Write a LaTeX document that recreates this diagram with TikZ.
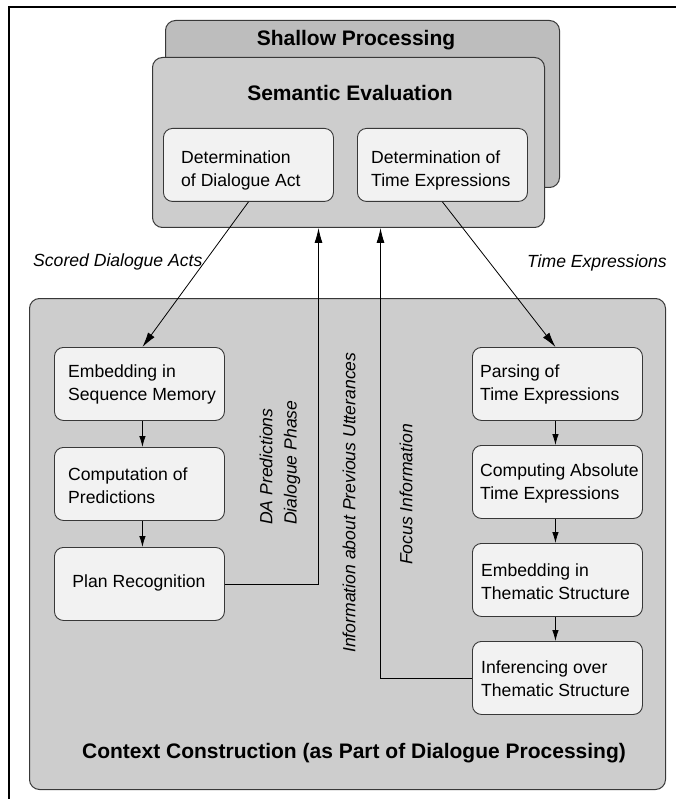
\documentclass[tikz,border=0pt]{standalone}
\usepackage{fontspec}
\setmainfont{Liberation Sans}
\usetikzlibrary{arrows.meta,calc}
\definecolor{shallowfill}{HTML}{BDBDBD}
\definecolor{outerfill}{HTML}{CDCDCD}
\definecolor{boxfill}{HTML}{F2F2F2}
\definecolor{bordergray}{HTML}{383838}
\begin{document}
\begin{tikzpicture}[x=1pt,y=-1pt,
  bigbox/.style={draw=bordergray, line width=1pt, rounded corners=10pt, inner sep=0pt, anchor=north west},
  procbox/.style={draw=bordergray, fill=boxfill, line width=0.9pt, rounded corners=9pt, minimum width=170pt, minimum height=73pt, inner sep=0pt, anchor=north west},
  boxtext/.style={font=\fontsize{17.6}{23}\selectfont, align=left, anchor=west, inner sep=0pt},
  heading/.style={font=\fontsize{21}{25}\selectfont\bfseries, inner sep=0pt},
  flowlabel/.style={font=\fontsize{17.6}{23}\selectfont\itshape, inner sep=0pt},
  bigarrow/.style={-{Latex[length=15pt,width=8pt]}, line width=0.8pt},
  smallarrow/.style={-{Latex[length=11pt,width=6.5pt]}, line width=0.8pt}]
\useasboundingbox (0,0) rectangle (676,799);
% frame
\coordinate (ftl) at (9,7);
\coordinate (ftr) at (676,7);
\coordinate (fbl) at (9,799);
\draw[line width=2.5pt] (ftr) -- (ftl) -- (fbl);
% shallow processing and semantic evaluation
\node[bigbox, fill=shallowfill, minimum width=394pt, minimum height=167pt] (shallow) at (165,20) {};
\node[heading] (shallowt) at (356,40) {Shallow Processing};
\node[bigbox, fill=outerfill, minimum width=392pt, minimum height=170pt] (sem) at (152,57) {};
\node[heading] (semt) at (350,93) {Semantic Evaluation};
\node[procbox] (detda) at (163,128) {};
\node[boxtext] (detdat) at (181,170) {Determination\\of Dialogue Act};
\node[procbox] (dette) at (357,128) {};
\node[boxtext] (dettet) at (371,170) {Determination of\\Time Expressions};
% context construction
\node[bigbox, fill=outerfill, minimum width=636pt, minimum height=491pt] (ctx) at (29,298) {};
\node[heading] (ctxt) at (354,753) {Context Construction (as Part of Dialogue Processing)};
% left column
\node[procbox] (emb) at (54,347) {};
\node[boxtext] (embt) at (68,384) {Embedding in\\Sequence Memory};
\node[procbox] (comp) at (54,447) {};
\node[boxtext] (compt) at (68,485.5) {Computation of\\Predictions};
\node[procbox] (plan) at (54,547) {};
\node[boxtext, anchor=center] (plant) at (139,583) {Plan Recognition};
% right column
\node[procbox] (pars) at (472,347) {};
\node[boxtext] (parst) at (480,384.5) {Parsing of\\Time Expressions};
\node[procbox] (cabs) at (472,445) {};
\node[boxtext] (cabst) at (480,483) {Computing Absolute\\Time Expressions};
\node[procbox] (embth) at (472,543) {};
\node[boxtext] (embtht) at (481,581.5) {Embedding in\\Thematic Structure};
\node[procbox] (infer) at (472,641) {};
\node[boxtext] (infert) at (481,678.5) {Inferencing over\\Thematic Structure};
% labels
\node[flowlabel, anchor=west] (lsda) at (33,262) {Scored Dialogue Acts};
\node[flowlabel, anchor=east] (lte) at (667,263) {Time Expressions};
\node[flowlabel, rotate=90, anchor=west] (ldap) at (266,525) {DA Predictions};
\node[flowlabel, rotate=90, anchor=west] (ldph) at (292,525) {Dialogue Phase};
\node[flowlabel, rotate=90, anchor=west] (linfo) at (349,653) {Information about Previous Utterances};
\node[flowlabel, rotate=90, anchor=west] (lfoc) at (406,565) {Focus Information};
% connectors
\draw[bigarrow] (detda.south) -- ([xshift=3pt]emb.north);
\draw[bigarrow] (dette.south) -- ([xshift=-2pt]pars.north);
\draw[smallarrow] ([xshift=3pt]emb.south) -- ([xshift=3pt]comp.north);
\draw[smallarrow] ([xshift=3pt]comp.south) -- ([xshift=3pt]plan.north);
\draw[smallarrow] ([xshift=-2pt]pars.south) -- ([xshift=-2pt]cabs.north);
\draw[smallarrow] ([xshift=-2pt]cabs.south) -- ([xshift=-2pt]embth.north);
\draw[smallarrow] ([xshift=-2pt]embth.south) -- ([xshift=-2pt]infer.north);
\draw[bigarrow] (plan.east) -| ([xshift=-30pt]sem.south);
\draw[bigarrow] (infer.west) -| ([xshift=32pt]sem.south);
\end{tikzpicture}
\end{document}
